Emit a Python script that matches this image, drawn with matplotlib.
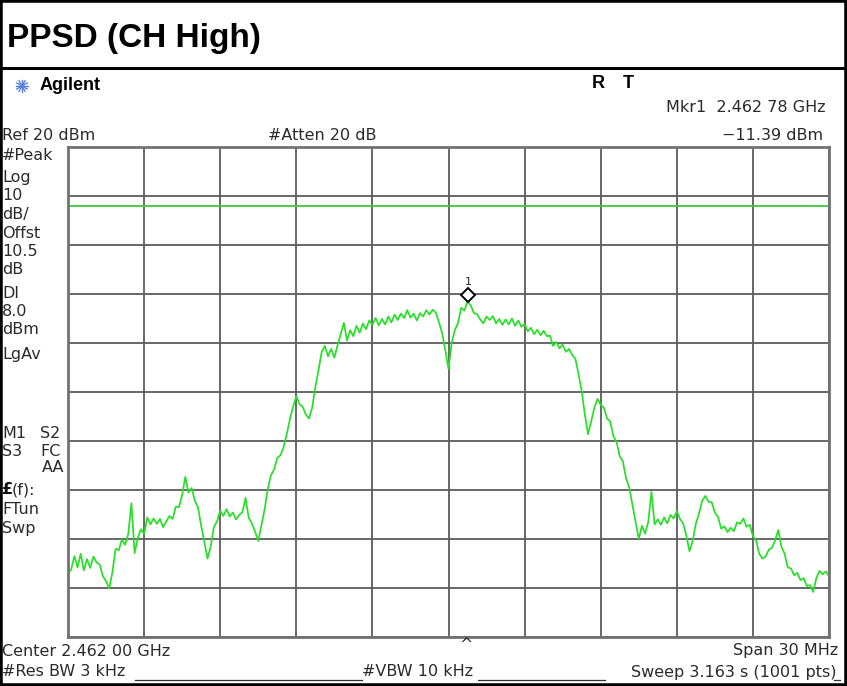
import numpy as np
import matplotlib.pyplot as plt
import matplotlib.transforms as mtransforms
from matplotlib.lines import Line2D
from matplotlib.patches import Rectangle

W, H = 847, 686

# sweep settings (MHz / dBm)
f_start, f_stop = 2447.0, 2477.0
ref_level = 20.0
db_div = 10.0
display_line = 8.0
mkr_freq = 2462.78
mkr_level = -11.39

trace_dbm = [
    -67.0, -66.2, -63.5, -65.8, -63.0, -66.4, -64.1, -65.9, -63.6, -64.8,
    -65.2, -67.6, -68.6, -70.1, -66.8, -62.0, -62.3, -60.1, -61.2, -59.0,
    -52.7, -62.9, -59.8, -58.0, -59.0, -55.6, -57.0, -55.8, -56.9, -55.9,
    -57.6, -56.4, -55.3, -55.9, -53.4, -53.5, -51.0, -47.3, -50.5, -49.6,
    -52.2, -53.6, -57.3, -60.6, -64.0, -61.5, -57.6, -56.4, -54.2, -55.3,
    -53.9, -55.4, -54.6, -56.0, -55.1, -54.5, -51.6, -55.7, -56.8, -58.5,
    -60.4, -57.2, -54.0, -49.8, -47.0, -45.8, -43.5, -42.9, -41.2, -38.6,
    -35.5, -33.0, -30.8, -32.5, -33.0, -34.6, -35.4, -33.2, -29.0, -25.6,
    -21.8, -20.6, -22.7, -21.2, -23.0, -20.5, -18.2, -15.9, -19.5, -17.4,
    -18.6, -16.5, -17.9, -16.0, -17.2, -15.4, -16.3, -14.9, -16.4, -15.1,
    -16.2, -14.6, -15.8, -14.2, -15.3, -14.0, -14.9, -13.3, -14.8, -14.0,
    -15.4, -13.9, -14.6, -13.3, -14.2, -13.2, -13.8, -15.8, -18.0, -21.5,
    -25.3, -20.0, -17.4, -15.9, -12.8, -13.4, -11.5, -12.3, -13.9, -14.1,
    -15.2, -16.0, -14.6, -15.3, -14.5, -16.0, -15.1, -16.3, -15.2, -16.2,
    -15.0, -16.5, -15.4, -16.7, -16.1, -17.6, -16.9, -18.2, -17.3, -18.4,
    -17.5, -18.6, -18.5, -20.6, -19.8, -21.1, -20.3, -21.8, -21.2, -22.4,
    -23.2, -26.3, -29.8, -34.6, -38.6, -36.0, -33.2, -31.4, -32.6, -33.2,
    -35.4, -36.0, -39.0, -40.2, -43.1, -44.2, -47.6, -49.5, -53.0, -56.5,
    -60.0, -57.3, -58.9, -56.5, -50.4, -57.0, -56.0, -57.1, -55.6, -56.8,
    -55.1, -55.8, -54.3, -55.9, -56.8, -59.3, -62.5, -60.4, -56.9, -54.8,
    -52.2, -51.2, -52.4, -52.5, -54.6, -55.5, -57.9, -57.4, -58.6, -57.7,
    -58.4, -56.6, -56.9, -55.8, -57.5, -57.1, -59.4, -60.3, -63.0, -64.0,
    -63.6, -62.2, -61.8, -60.3, -58.2, -61.6, -63.0, -65.8, -66.0, -67.4,
    -66.9, -68.4, -68.0, -69.6, -69.4, -70.8, -68.0, -66.5, -67.2, -66.6,
    -67.6,
]
freq = np.linspace(f_start, f_stop, len(trace_dbm))


def fx(x):
    return x / W


def fy(y):
    return 1 - y / H


fig = plt.figure(figsize=(W / 100, H / 100), dpi=100)
fig.patch.set_facecolor('white')

# graticule
ax = fig.add_axes([fx(68), fy(637), (829 - 68) / W, (637 - 147) / H])
ax.set_xlim(f_start, f_stop)
ax.set_ylim(ref_level - 10 * db_div, ref_level)
ax.set_xticks(np.linspace(f_start, f_stop, 11))
ax.set_yticks(np.arange(ref_level - 10 * db_div, ref_level + 1, db_div))
ax.tick_params(length=0, labelbottom=False, labelleft=False)
ax.grid(color='#5c5c5c', lw=1.3)
ax.set_axisbelow(True)
for s in ax.spines.values():
    s.set_color('#727272')
    s.set_linewidth(2)

ax.axhline(display_line, color='#3cc83c', lw=1.3)
ax.plot(freq, trace_dbm, color='#26e026', lw=1.25)

# marker 1, drawn just above the trace point
up = mtransforms.offset_copy(ax.transData, fig=fig, x=0, y=6, units='dots')
ax.plot([mkr_freq], [mkr_level], marker='D', ms=7, mfc='white', mec='black',
        mew=1.4, transform=up, zorder=5)
ax.annotate('1', (mkr_freq, mkr_level), xytext=(0, 19), textcoords='offset pixels',
            ha='center', va='center', fontsize=8, color='#222')

# frame and title bar
fig.add_artist(Rectangle((0, 0), 1, 1, transform=fig.transFigure, fill=False,
                         lw=4, ec='black'))
fig.add_artist(Line2D([0, 1], [fy(68), fy(68)], transform=fig.transFigure,
                      color='black', lw=2.2))
fig.text(fx(7), fy(38), 'PPSD (CH High)', fontsize=24, fontweight='bold',
         family='Liberation Sans', va='center', ha='left')

# Agilent spark logo
cx, cy = 22, 86
for a in np.linspace(0, np.pi, 6, endpoint=False):
    dx, dy = 6 * np.cos(a), 6 * np.sin(a)
    fig.add_artist(Line2D([fx(cx - dx), fx(cx + dx)], [fy(cy - dy), fy(cy + dy)],
                          transform=fig.transFigure, color='#5a7fd6', lw=1))
fig.text(fx(40), fy(86), 'Agilent', fontsize=13, fontweight='bold',
         family='Liberation Sans', va='center')
fig.text(fx(598), fy(84), 'R', fontsize=13, fontweight='bold',
         family='Liberation Sans', va='center', ha='center')
fig.text(fx(628), fy(84), 'T', fontsize=13, fontweight='bold',
         family='Liberation Sans', va='center', ha='center')

txt = dict(fontsize=11.5, color='#2a2a2a', family='DejaVu Sans', va='center')
fig.text(fx(826), fy(108), 'Mkr1  2.462 78 GHz', ha='right', **txt)
fig.text(fx(2), fy(135), 'Ref 20 dBm', ha='left', **txt)
fig.text(fx(268), fy(135), '#Atten 20 dB', ha='left', **txt)
fig.text(fx(823), fy(135), '\u221211.39 dBm', ha='right', **txt)

side = [('#Peak', 156), ('Log', 177), ('10', 196), ('dB/', 214), ('Offst', 234),
        ('10.5', 252), ('dB', 270), ('Dl', 294), ('8.0', 312), ('dBm', 330),
        ('LgAv', 355), ('M1', 433), ('S3', 451), ('FTun', 509), ('Swp', 528)]
for s, y in side:
    fig.text(fx(2), fy(y), s, ha='left', **txt)
fig.text(fx(40), fy(433), 'S2', ha='left', **txt)
fig.text(fx(40), fy(451), 'FC', ha='left', **txt)
fig.text(fx(64), fy(468), 'AA', ha='right', **txt)
fig.text(fx(2), fy(490), '\u00a3', ha='left', fontsize=11.5, fontweight='bold',
         color='#111', va='center')
fig.text(fx(12), fy(490), '(f):', ha='left', **txt)

fig.text(fx(466), fy(645), '^', ha='center', **txt)
fig.text(fx(2), fy(651), 'Center 2.462 00 GHz', ha='left', **txt)
fig.text(fx(838), fy(651), 'Span 30 MHz', ha='right', **txt)
fig.text(fx(2), fy(672), '#Res BW 3 kHz', ha='left', **txt)
fig.text(fx(362), fy(672), '#VBW 10 kHz', ha='left', **txt)
fig.text(fx(836), fy(672), 'Sweep 3.163 s (1001 pts)', ha='right', **txt)
for x0, x1 in [(135, 362), (478, 605), (834, 840)]:
    fig.add_artist(Line2D([fx(x0), fx(x1)], [fy(680), fy(680)],
                          transform=fig.transFigure, color='#333', lw=0.9))

fig.savefig('out.png', dpi=100)
